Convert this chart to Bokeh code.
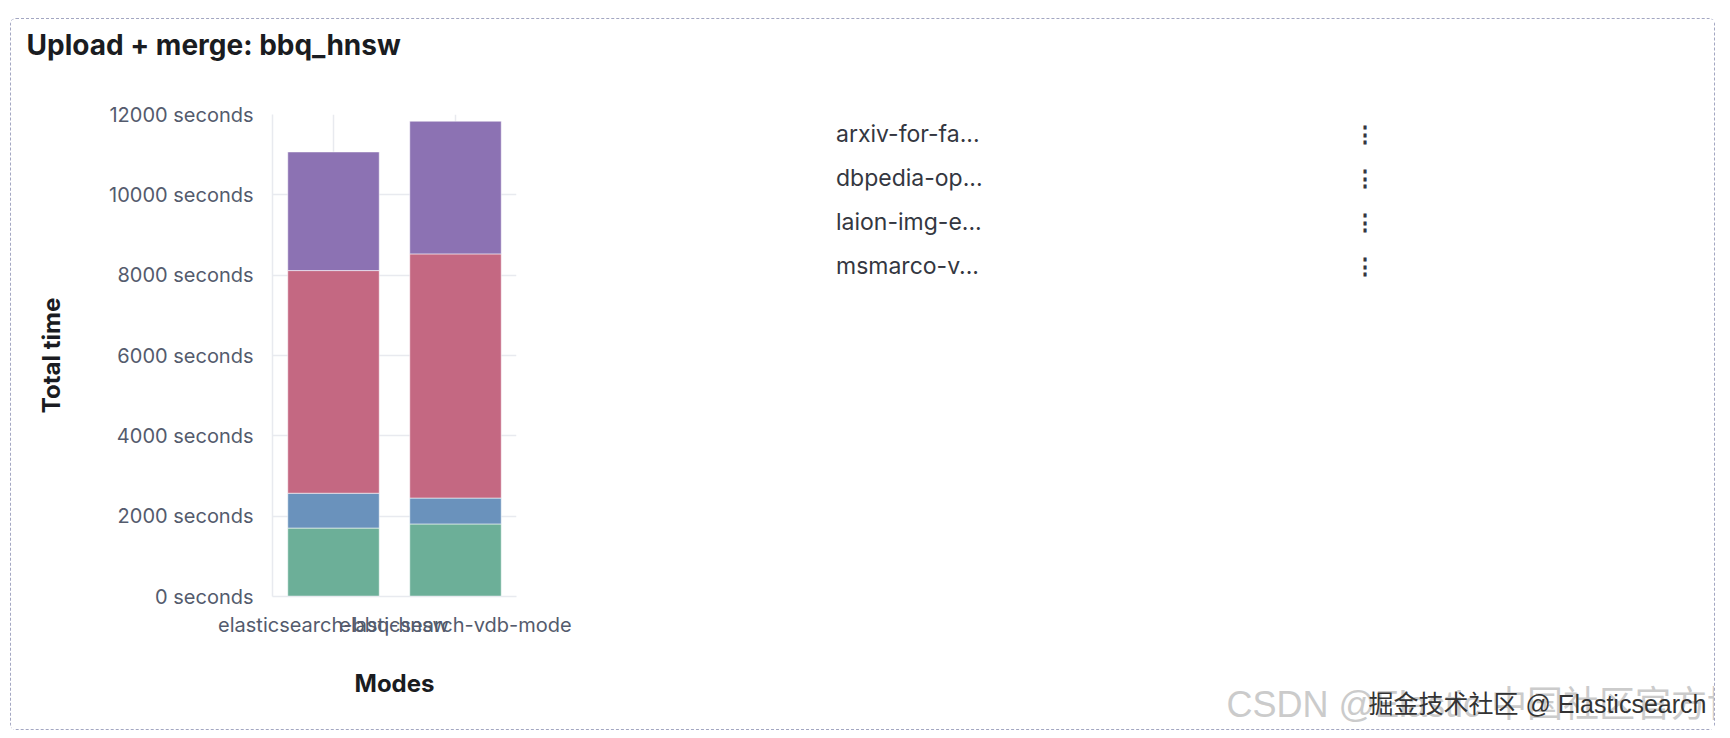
from bokeh.plotting import figure
from bokeh.models import (ColumnDataSource, FactorRange, Range1d, Legend, LegendItem,
                          Label, PrintfTickFormatter, SingleIntervalTicker)
from bokeh.embed import file_html
from bokeh.resources import INLINE

# ---------------- data ----------------
modes = ["elasticsearch-bbq-hnsw", "elasticsearch-vdb-mode"]
series = ["arxiv", "dbpedia", "laion", "msmarco"]
legend_labels = ["arxiv-for-fa...", "dbpedia-op...", "laion-img-e...", "msmarco-v..."]
arxiv = [1704, 1806]
dbpedia = [867, 645]
laion = [5543, 6079]
msmarco = [2954, 3304]
colors = ["#6caf98", "#6a92bc", "#c46882", "#8c72b3"]
y_ticks_interval = 2000

title_text = "Upload + merge: bbq_hnsw"
watermark_1 = "CSDN @Elastic 中国社区官方博客"
watermark_2 = "掘金技术社区 @ Elasticsearch"
FONT = "Inter"
WM_FONT = "Liberation Sans, Noto Sans CJK SC"
MONO = "DejaVu Sans Mono"

src = ColumnDataSource(dict(modes=modes, arxiv=arxiv, dbpedia=dbpedia, laion=laion, msmarco=msmarco))

p = figure(x_range=FactorRange(*modes), y_range=Range1d(0, 12000),
           width=1705, height=712, output_backend="svg", toolbar_location=None,
           min_border_left=261, min_border_right=414, min_border_top=95, min_border_bottom=135)
p.styles = {"border": "1px dashed #a3a7c2", "border-radius": "6px",
            "margin-left": "10px", "margin-top": "18px"}
p.outline_line_color = None
p.background_fill_color = "white"
p.border_fill_color = "white"

p.vbar_stack(series, x="modes", width=0.75, color=colors, source=src,
             line_color="#ffffff", line_alpha=0.55, line_width=1)

# grids / axes
GRID = "#e8eaef"
p.ygrid.grid_line_color = GRID
p.ygrid.grid_line_width = 1.5
p.xgrid.grid_line_color = GRID
p.xgrid.grid_line_width = 1.5

p.yaxis.ticker = SingleIntervalTicker(interval=y_ticks_interval, num_minor_ticks=0)
p.yaxis.formatter = PrintfTickFormatter(format="%d seconds")
for ax in (p.xaxis, p.yaxis):
    ax.axis_line_color = GRID
    ax.axis_line_width = 1.5
    ax.major_tick_line_color = None
    ax.minor_tick_line_color = None
    ax.major_tick_out = 0
    ax.major_tick_in = 0
    ax.major_label_text_font = FONT
    ax.major_label_text_font_size = "20px"
    ax.major_label_text_color = "#545b6d"
    ax.axis_label_text_font = FONT
    ax.axis_label_text_font_size = "24px"
    ax.axis_label_text_font_style = "bold"
    ax.axis_label_text_color = "#1a1c21"
p.yaxis.major_label_standoff = 19
p.xaxis.major_label_standoff = 16
p.yaxis.axis_label = "Total time"
p.xaxis.axis_label = "Modes"
p.yaxis.axis_label_standoff = 40
p.xaxis.axis_label_standoff = 29

FRAME_L, FRAME_T, FRAME_R, FRAME_B = 272, 114, 1302, 596   # page pixels

# ---- above panel: title (nearest the frame), then watermark 1 ----
p.add_layout(Label(x=26 - FRAME_L, y=FRAME_T - 44, x_units="screen", y_units="screen",
                   text=title_text, text_font=FONT, text_font_size="28px",
                   text_font_style="bold", text_color="#1a1c21",
                   text_baseline="middle"), "above")
TITLE_H = 34
p.add_layout(Label(x=1226 - FRAME_L, y=(FRAME_T - TITLE_H) - 720 + 16, x_units="screen",
                   y_units="screen", text=watermark_1, text_font=WM_FONT,
                   text_font_size="36px", text_color="#cbcbcb",
                   text_baseline="alphabetic"), "above")

# ---- below panel: watermark 2 (after the x axis) ----
AXIS_H, WM2_H = 98, 30
p.add_layout(Label(x=1368 - FRAME_L, y=(FRAME_B + AXIS_H + WM2_H) - 712 + 13, x_units="screen",
                   y_units="screen", text=watermark_2, text_font=WM_FONT,
                   text_font_size="25px", text_color="#333333",
                   text_baseline="alphabetic"), "below")

# ---- right panel: legend (wide glyph box puts the dot at page x 1462) ----
DOT_X, TEXT_X = 1462, 1486
GW = 2 * (DOT_X - FRAME_R)
dummies = [p.scatter(x=[], y=[], size=16, color=c, marker="circle") for c in colors]
legend = Legend(items=[LegendItem(label=l, renderers=[r]) for l, r in zip(legend_labels, dummies)],
                location="top_left",
                glyph_width=GW, glyph_height=40, label_standoff=TEXT_X - (FRAME_R + GW),
                spacing=4, padding=0, margin=0, border_line_alpha=0, background_fill_alpha=0,
                label_text_font=FONT, label_text_font_size="23px", label_text_color="#343741",
                label_text_baseline="middle")
p.add_layout(legend, "right")

# ---- right panel: per-item action icons ----
LABEL_W = 147
icons_left = TEXT_X + LABEL_W
ghosts = [p.scatter(x=[], y=[], fill_alpha=0, line_alpha=0) for _ in legend_labels]
icons = Legend(items=[LegendItem(label="\u22ee", renderers=[g]) for g in ghosts],
               location="top_left", glyph_width=0, glyph_height=40, label_height=40,
               label_width=14, label_standoff=max(0, 1664 - icons_left),
               spacing=4, padding=0, margin=0, border_line_alpha=0,
               background_fill_alpha=0, label_text_font=MONO,
               label_text_font_size="22px", label_text_font_style="bold",
               label_text_color="#343741", label_text_baseline="middle")
p.add_layout(icons, "right")

open("out.html", "w").write(file_html(p, INLINE))
